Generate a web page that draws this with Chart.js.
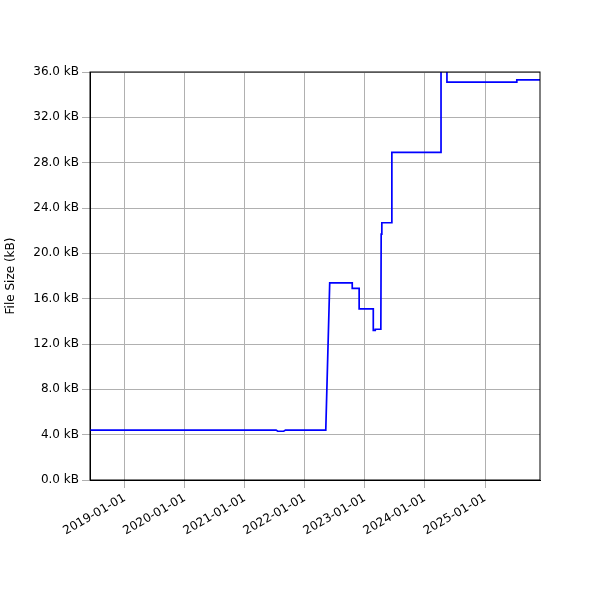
<!DOCTYPE html>
<html><head><meta charset="utf-8">
<script src="https://cdn.jsdelivr.net/npm/chart.js@4"></script>
<style>body{margin:0}#w{width:600px;height:600px}</style></head>
<body><div id="w"><canvas id="c"></canvas></div>
<script>
const dates = ["2018-06-01","2021-07-10","2021-07-20","2021-08-25","2021-09-05","2022-05-08","2022-06-01","2022-10-16","2022-10-16","2022-11-27","2022-11-27","2023-02-21","2023-02-21","2023-03-05","2023-03-05","2023-04-08","2023-04-10","2023-04-14","2023-04-14","2023-06-14","2023-06-14","2024-04-08","2024-04-08","2024-05-14","2024-05-14","2025-07-13","2025-07-13","2025-12-15"];
const sizes = [4.4,4.4,4.3,4.3,4.4,4.4,17.4,17.4,16.9,16.9,15.1,15.1,13.2,13.2,13.3,13.3,21.7,21.7,22.7,22.7,28.9,28.9,40,40,35.1,35.1,35.3,35.3];
const yearTicks = ["2019-01-01","2020-01-01","2021-01-01","2022-01-01","2023-01-01","2024-01-01","2025-01-01"];
const t = s => Date.parse(s+"T00:00:00Z");
const pts = dates.map((d,i)=>({x:t(d),y:sizes[i]}));
const grid = {color:'#b0b0b0',lineWidth:1};
const frame = {id:'frame',afterDraw(c){const a=c.chartArea,x=c.ctx;x.save();x.strokeStyle='#000';x.lineWidth=1;x.strokeRect(a.left,a.top,a.right-a.left,a.bottom-a.top);x.restore();}};
new Chart(document.getElementById('c'),{
 type:'line',
 data:{datasets:[{data:pts,borderColor:'#0000ff',borderWidth:1.7,pointRadius:0,tension:0,fill:false}]},
 plugins:[frame],
 options:{responsive:true,maintainAspectRatio:false,animation:false,
  layout:{padding:{top:72,right:60,left:0,bottom:0}},
  plugins:{legend:{display:false},tooltip:{enabled:false}},
  scales:{
   x:{type:'linear',min:t("2018-06-04"),max:t("2025-12-01"),
    grid:grid,border:{color:'#000'},
    afterBuildTicks:s=>{s.ticks=yearTicks.map(d=>({value:t(d)}));},
    afterFit:s=>{s.height=120;},
    ticks:{color:'#000',font:{family:'DejaVu Sans',size:12},minRotation:30,maxRotation:30,
      callback:v=>new Date(v).toISOString().slice(0,10)}},
   y:{min:0,max:36,grid:grid,border:{color:'#000'},
    afterFit:s=>{s.width=90;},
    title:{display:true,text:'File Size (kB)',color:'#000',font:{family:'DejaVu Sans',size:12}},
    ticks:{stepSize:4,color:'#000',font:{family:'DejaVu Sans',size:12},callback:v=>v.toFixed(1)+' kB'}}
  }}
});
</script></body></html>
